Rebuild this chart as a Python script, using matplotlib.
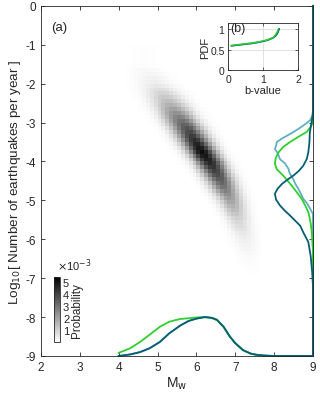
import matplotlib
matplotlib.use("Agg")
import matplotlib.pyplot as plt
import numpy as np

plt.rcParams['font.family'] = ['Liberation Sans', 'DejaVu Sans']
plt.rcParams['axes.unicode_minus'] = False

# ridge of the probability map (a), values in units of 1e-3
hm_y = [-1.5, -2.0, -2.5, -3.0, -3.5, -3.75, -4.0, -4.5, -5.0, -5.5, -6.0, -6.5, -7.0]
hm_center = [4.65, 4.95, 5.3, 5.65, 5.98, 6.15, 6.32, 6.63, 6.88, 7.08, 7.24, 7.36, 7.45]
hm_peak = [0.05, 0.4, 1.5, 3.2, 4.6, 5.1, 4.7, 3.4, 2.0, 0.9, 0.35, 0.1, 0.0]
hm_sigma = [0.3, 0.3, 0.3, 0.28, 0.26, 0.25, 0.25, 0.24, 0.22, 0.2, 0.2, 0.2, 0.2]

# marginal pdf along Mw (normalised height above -9)
mw_x_teal = [4.0, 4.3, 4.55, 4.8, 5.06, 5.3, 5.58, 5.8, 6.0, 6.22, 6.4, 6.53, 6.7, 6.86, 7.0, 7.2, 7.4, 7.55, 7.75, 8.0, 9.0]
mw_h_teal = [0.0, 0.04, 0.1, 0.2, 0.36, 0.58, 0.78, 0.9, 0.96, 1.0, 0.98, 0.93, 0.75, 0.5, 0.33, 0.15, 0.06, 0.03, 0.01, 0.0, 0.0]
mw_x_green = [4.0, 4.3, 4.55, 4.8, 5.06, 5.3, 5.58, 5.8, 6.0, 6.17, 6.3, 6.4, 6.53, 6.7, 6.86, 7.0, 7.2, 7.4, 7.55, 7.75, 8.0, 9.0]
mw_h_green = [0.08, 0.2, 0.36, 0.55, 0.75, 0.88, 0.95, 0.97, 0.99, 1.0, 0.99, 0.97, 0.92, 0.75, 0.5, 0.33, 0.15, 0.06, 0.03, 0.01, 0.0, 0.0]

# marginal pdf along log10 rate (normalised width left of Mw=9)
r_y_blue = [0.0, -2.8, -2.95, -3.1, -3.25, -3.4, -3.5, -3.6, -3.68, -3.8, -3.94, -4.05, -4.19, -4.3, -4.45, -4.58, -4.7, -4.85, -4.96, -5.08, -5.2, -5.35, -9.0]
r_w_blue = [0.0, 0.0, 0.08, 0.28, 0.51, 0.78, 0.93, 0.95, 0.98, 0.9, 0.85, 0.72, 0.63, 0.6, 0.51, 0.45, 0.38, 0.3, 0.25, 0.15, 0.08, 0.0, 0.0]
r_y_green = [0.0, -3.0, -3.1, -3.24, -3.37, -3.5, -3.63, -3.77, -3.92, -4.06, -4.2, -4.37, -4.5, -4.63, -4.8, -4.96, -5.13, -5.3, -5.47, -5.65, -5.82, -5.99, -6.3, -9.0]
r_w_green = [0.0, 0.0, 0.05, 0.16, 0.38, 0.59, 0.77, 0.89, 0.96, 0.98, 0.93, 0.76, 0.65, 0.54, 0.41, 0.29, 0.2, 0.12, 0.08, 0.05, 0.03, 0.02, 0.0, 0.0]
r_y_teal = [0.0, -2.7, -2.9, -3.25, -3.5, -3.77, -3.94, -4.11, -4.24, -4.36, -4.47, -4.58, -4.7, -4.83, -4.98, -5.13, -5.26, -5.39, -5.52, -5.65, -5.82, -6.07, -6.42, -6.85, -7.2, -9.0]
r_w_teal = [0.0, 0.0, 0.02, 0.08, 0.09, 0.12, 0.16, 0.25, 0.36, 0.5, 0.66, 0.8, 0.91, 0.98, 0.95, 0.85, 0.73, 0.59, 0.46, 0.33, 0.25, 0.12, 0.06, 0.02, 0.0, 0.0]

# inset (b): pdf of b-value
b_x_green = [0.1, 0.3, 0.5, 0.7, 0.9, 1.1, 1.2, 1.3, 1.35, 1.4, 1.43]
b_y_green = [0.6, 0.62, 0.64, 0.66, 0.69, 0.73, 0.76, 0.8, 0.85, 0.92, 0.98]
b_x_teal = [0.1, 0.3, 0.5, 0.7, 0.9, 1.1, 1.2, 1.3, 1.37, 1.42, 1.46]
b_y_teal = [0.59, 0.61, 0.63, 0.65, 0.68, 0.72, 0.75, 0.79, 0.84, 0.91, 1.0]

cb_ticks = [1, 2, 3, 4, 5]

c_green = '#2fcf2f'
c_teal = '#075e74'
c_blue = '#62aec3'
ax_col = '#262626'

fig = plt.figure(figsize=(3.2, 4.02), dpi=100)
ax = fig.add_axes([0.128, 0.112, 0.85, 0.871])

# probability map on 0.1 cells
xe = np.arange(4.0, 8.0001, 0.1)
ye = np.arange(-7.0, -0.9999, 0.1)
xc = 0.5 * (xe[:-1] + xe[1:])
yc = 0.5 * (ye[:-1] + ye[1:])
Z = np.zeros((len(yc), len(xc)))
for i, yy in enumerate(yc):
    c = np.interp(-yy, [-v for v in hm_y], hm_center)
    p = np.interp(-yy, [-v for v in hm_y], hm_peak)
    s = np.interp(-yy, [-v for v in hm_y], hm_sigma)
    Z[i] = p * np.exp(-0.5 * ((xc - c) / s) ** 2)
mesh = ax.pcolormesh(xe, ye, Z, cmap='gray_r', vmin=0, vmax=5.4, shading='flat')

lw = 1.3
ax.plot(mw_x_teal, np.array(mw_h_teal) - 9, color=c_blue, lw=lw, clip_on=False)
ax.plot(mw_x_green, np.array(mw_h_green) - 9, color=c_green, lw=lw, clip_on=False)
ax.plot(mw_x_teal, np.array(mw_h_teal) - 9, color=c_teal, lw=lw, clip_on=False)
ax.plot(9 - np.array(r_w_blue), r_y_blue, color=c_blue, lw=lw, clip_on=False)
ax.plot(9 - np.array(r_w_green), r_y_green, color=c_green, lw=lw, clip_on=False)
ax.plot(9 - np.array(r_w_teal), r_y_teal, color=c_teal, lw=lw, clip_on=False)

ax.set_xlim(2, 9)
ax.set_ylim(-9, 0)
ax.set_xticks(range(2, 10))
ax.set_yticks(range(-9, 1))
ax.tick_params(direction='in', top=True, right=True, labelsize=8.5, colors=ax_col, length=3, width=0.6)
for s in ax.spines.values():
    s.set_color(ax_col)
    s.set_linewidth(0.6)
ax.set_xlabel('M$_\\mathrm{w}$', fontsize=10, color=ax_col, labelpad=1)
ax.set_ylabel('Log$_{10}$[ Number of earthquakes per year ]', fontsize=9.7, color=ax_col, labelpad=2)
ax.text(2.25, -0.55, '(a)', fontsize=9.5, color=ax_col, ha='left', va='center')

# colorbar
cax = fig.add_axes([0.169, 0.147, 0.019, 0.162])
cb = fig.colorbar(mesh, cax=cax, ticks=cb_ticks)
cb.outline.set_linewidth(0.6)
cb.outline.set_edgecolor(ax_col)
cax.tick_params(labelsize=8, colors=ax_col, length=0, pad=2)
cb.set_label('Probability', fontsize=8.5, color=ax_col, labelpad=1)
cax.text(0.5, 1.06, '$\\times$10$^{-3}$', transform=cax.transAxes, fontsize=8, color=ax_col, ha='left', va='bottom')

# inset (b)
axb = fig.add_axes([0.7125, 0.823, 0.219, 0.117])
axb.plot(b_x_teal, b_y_teal, color=c_blue, lw=1.1)
axb.plot(b_x_teal, b_y_teal, color=c_teal, lw=1.1)
axb.plot(b_x_green, b_y_green, color=c_green, lw=1.1)
axb.set_xlim(0, 2)
axb.set_ylim(0, 1.14)
axb.set_xticks([0, 1, 2])
axb.set_yticks([0, 0.5, 1])
axb.set_yticklabels(['0', '0.5', '1'])
axb.grid(True, color='#dddddd', lw=0.6)
axb.tick_params(direction='in', top=True, right=True, labelsize=7.5, colors=ax_col, length=2, width=0.5, pad=2.5)
for s in axb.spines.values():
    s.set_color(ax_col)
    s.set_linewidth(0.6)
axb.set_xlabel('b-value', fontsize=8, color=ax_col, labelpad=1)
axb.set_ylabel('PDF', fontsize=8, color=ax_col, labelpad=0)
axb.text(0.05, 1.02, '(b)', fontsize=9, color=ax_col, ha='left', va='center')

fig.savefig('out.png', dpi=100)
